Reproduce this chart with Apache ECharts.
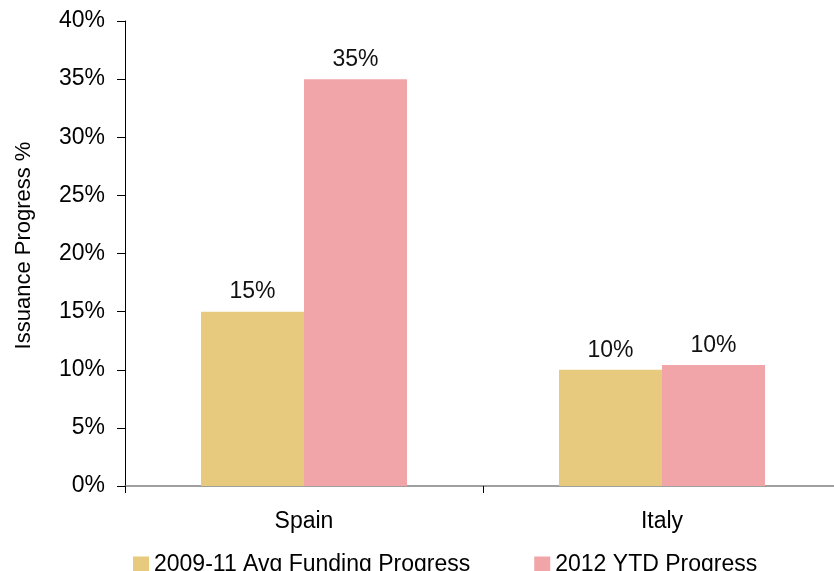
<!DOCTYPE html>
<html>
<head>
<meta charset="utf-8">
<script src="https://cdn.jsdelivr.net/npm/echarts@6/dist/echarts.min.js"></script>
<style>
  html, body { margin: 0; padding: 0; background: #fff; overflow: hidden; }
  /* 画布比窗口略宽，x 轴右端延伸出可视区域 */
  #chart { width: 841px; height: 571px; }
</style>
</head>
<body>
<div id="chart"></div>
<script>
// 数据
const countries = ["Spain", "Italy"];
const avgFunding = [15, 10];      // 2009-11 Avg Funding Progress
const ytdProgress = [35, 10.4];   // 2012 YTD Progress
const seriesNames = ["2009-11 Avg Funding Progress", "2012 YTD Progress"];

const fontFamily = "Liberation Sans, Arial, sans-serif";
const fontSize = 23;

var myChart = echarts.init(document.getElementById("chart"));
const option = {
    animation: false,
    textStyle: { fontFamily: fontFamily },
    grid: {
        left: 125,
        top: 21,
        right: 0,
        bottom: 85
    },
    legend: {
        left: 128,
        top: 548,
        itemWidth: 16,
        itemHeight: 16,
        itemGap: 64,
        icon: "rect",
        textStyle: { fontSize: fontSize, color: "#000", fontFamily: fontFamily },
        data: seriesNames
    },
    xAxis: {
        type: "category",
        data: countries,
        axisLine: { lineStyle: { color: "#808080", width: 1.5 } },
        axisTick: { show: true, length: 7, alignWithLabel: false, lineStyle: { color: "#000" } },
        axisLabel: { fontSize: fontSize, color: "#000", margin: 24, fontFamily: fontFamily }
    },
    yAxis: {
        type: "value",
        min: 0,
        max: 40,
        interval: 5,
        name: "Issuance Progress %",
        nameLocation: "middle",
        nameRotate: 90,
        nameGap: 90,
        nameTextStyle: { fontSize: fontSize - 1, color: "#000", fontFamily: fontFamily, padding: [0, 0, 0, 16] },
        axisLine: { show: true, lineStyle: { color: "#000" } },
        axisTick: { show: true, length: 8, lineStyle: { color: "#000" } },
        splitLine: { show: false },
        axisLabel: {
            fontSize: fontSize,
            color: "#000",
            margin: 20,
            fontFamily: fontFamily,
            formatter: "{value}%"
        }
    },
    series: [
        {
            name: seriesNames[0],
            type: "bar",
            data: avgFunding,
            barWidth: 103,
            barGap: "0%",
            itemStyle: { color: "#E8CA7E" },
            label: {
                show: true,
                position: "top",
                distance: 8,
                fontSize: fontSize,
                color: "#111",
                fontFamily: fontFamily,
                formatter: function (p) { return Math.round(p.value) + "%"; }
            }
        },
        {
            name: seriesNames[1],
            type: "bar",
            data: ytdProgress,
            barWidth: 103,
            barGap: "0%",
            itemStyle: { color: "#F2A5A8" },
            label: {
                show: true,
                position: "top",
                distance: 8,
                fontSize: fontSize,
                color: "#111",
                fontFamily: fontFamily,
                formatter: function (p) { return Math.round(p.value) + "%"; }
            }
        }
    ]
};
myChart.setOption(option);
</script>
</body>
</html>
